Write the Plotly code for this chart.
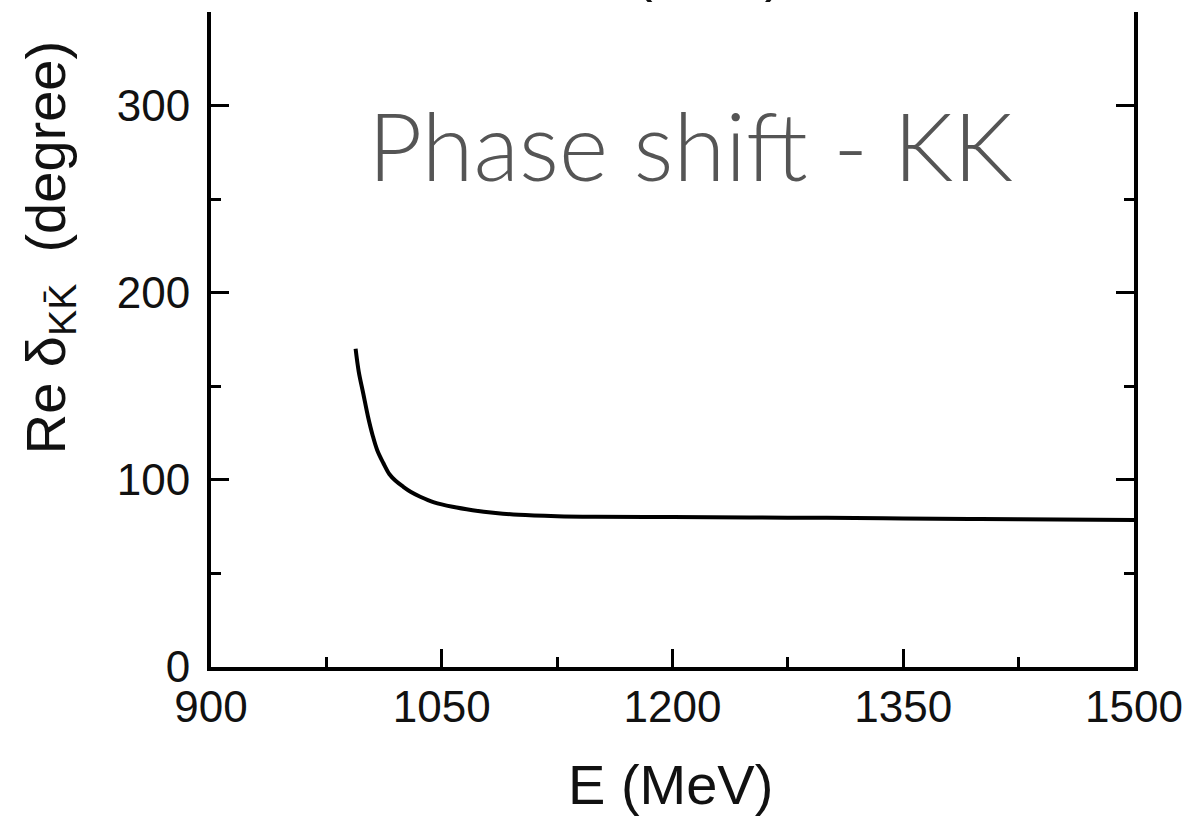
import plotly.graph_objects as go

# Data
energy_mev = [994, 996, 999, 1002, 1005, 1008, 1012, 1016, 1020, 1025, 1030, 1036, 1045,
              1057, 1070, 1085, 1100, 1125, 1150, 1200, 1250, 1300, 1350, 1400, 1450, 1500]
re_delta_kk = [170, 158, 146, 134, 124, 116, 109, 103, 99.5, 96.3, 93.5, 91, 88,
               85.6, 83.8, 82.3, 81.3, 80.6, 80.3, 80.1, 79.9, 79.7, 79.4, 79.1, 78.8, 78.5]

x_ticks = [900, 1050, 1200, 1350, 1500]
y_ticks = [0, 100, 200, 300]

fig = go.Figure()
fig.add_trace(go.Scatter(x=energy_mev, y=re_delta_kk, mode="lines",
                         line=dict(color="black", width=4, shape="spline"),
                         showlegend=False, hoverinfo="skip"))

tickfont = dict(family="Liberation Sans, Arial, sans-serif", size=44, color="#111")

fig.update_xaxes(range=[900, 1500], tickvals=x_ticks, ticks="inside", ticklen=18, tickwidth=3,
                 tickcolor="black", showline=True, linecolor="black", linewidth=4,
                 showgrid=False, zeroline=False, mirror=False, tickfont=tickfont,
                 ticklabelstandoff=-2,
                 minor=dict(dtick=75, tick0=900, ticks="inside", ticklen=10, tickwidth=3,
                            tickcolor="black", showgrid=False))
fig.update_yaxes(range=[0, 350], tickvals=y_ticks, ticks="inside", ticklen=18, tickwidth=3,
                 tickcolor="black", showline=True, linecolor="black", linewidth=4,
                 showgrid=False, zeroline=False, mirror="ticks", tickfont=tickfont,
                 ticklabelstandoff=8,
                 minor=dict(dtick=50, tick0=0, ticks="inside", ticklen=10, tickwidth=3,
                            tickcolor="black", showgrid=False))

titlefont = dict(family="Liberation Sans, Arial, sans-serif", size=56, color="#111")

annotations = [
    dict(text="E (MeV)", xref="paper", yref="paper", x=0.498, y=-0.18,
         xanchor="center", yanchor="middle", showarrow=False, font=titlefont),
    dict(text="Re δ<sub>KK̄</sub>  (degree)", xref="paper", yref="paper", x=-0.175, y=0.64,
         xanchor="center", yanchor="middle", showarrow=False, textangle=-90, font=titlefont),
    dict(text="Phase shift - KK", xref="paper", yref="paper", x=0.168, y=0.797,
         xanchor="left", yanchor="middle", showarrow=False,
         font=dict(family="Lato Light, Lato", size=94, color="#555555")),
    dict(text="(\u2003\u2003)", xref="paper", yref="paper", x=0.5395, y=1.012,
         xanchor="center", yanchor="bottom", showarrow=False, font=titlefont),
]

fig.update_layout(width=1195, height=822, margin=dict(l=211, r=59, t=12, b=155),
                  paper_bgcolor="white", plot_bgcolor="white", annotations=annotations)

fig.write_html("out.html")
